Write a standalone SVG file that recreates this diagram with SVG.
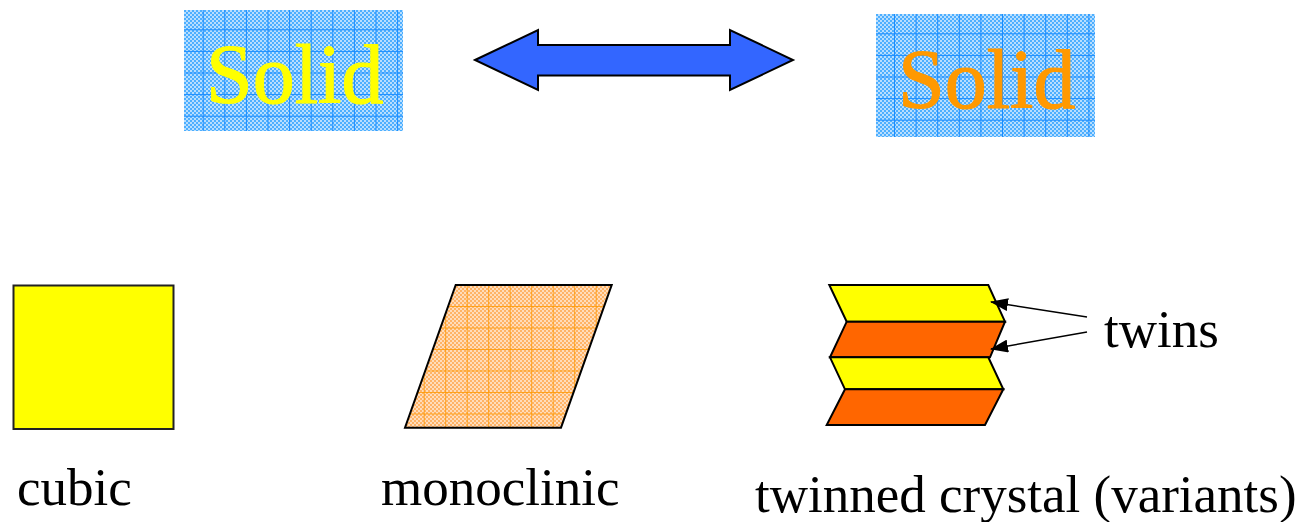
<svg xmlns="http://www.w3.org/2000/svg" width="1303" height="522" viewBox="0 0 1303 522">
  <style>
    .lbl { font-family: "Liberation Serif", "Times New Roman", serif; font-size: 53px; fill: #000; }
    .solid { font-family: "Liberation Serif", "Times New Roman", serif; font-size: 84px; stroke-width: 1.2; }
    .edge { stroke: #000; stroke-width: 2; stroke-linejoin: miter; }
    .conn { stroke: #000; stroke-width: 1.5; fill: none; }
  </style>
  <defs>
    <pattern id="blueDither" patternUnits="userSpaceOnUse" width="4" height="4">
      <rect width="4" height="4" fill="#4DAFFF"/>
      <rect width="2" height="2" fill="#B8DEFF"/>
      <rect x="2" y="2" width="2" height="2" fill="#B8DEFF"/>
    </pattern>
    <pattern id="blueGridL" patternUnits="userSpaceOnUse" width="21.6" height="21.6" patternTransform="translate(202.7 29.3)">
      <rect x="-0.8" y="0" width="1.8" height="21.6" fill="#1A8CFF"/>
      <rect x="0" y="-0.8" width="21.6" height="1.8" fill="#1A8CFF"/>
    </pattern>
    <pattern id="blueGridR" patternUnits="userSpaceOnUse" width="21.6" height="21.6" patternTransform="translate(894 33.3)">
      <rect x="-0.8" y="0" width="1.8" height="21.6" fill="#1A8CFF"/>
      <rect x="0" y="-0.8" width="21.6" height="1.8" fill="#1A8CFF"/>
    </pattern>
    <pattern id="orangeDither" patternUnits="userSpaceOnUse" width="4" height="4">
      <rect width="4" height="4" fill="#FFB366"/>
      <rect width="2" height="2" fill="#FFDDBB"/>
      <rect x="2" y="2" width="2" height="2" fill="#FFDDBB"/>
    </pattern>
    <pattern id="orangeGrid" patternUnits="userSpaceOnUse" width="21.5" height="21.5" patternTransform="translate(466.7 306)">
      <rect x="-0.6" y="0" width="1.4" height="21.5" fill="#FF9900"/>
      <rect x="0" y="-0.6" width="21.5" height="1.4" fill="#FF9900"/>
    </pattern>
    <marker id="arrowHead" viewBox="0 0 18 13" refX="17" refY="6.5" markerWidth="18" markerHeight="13" markerUnits="userSpaceOnUse" orient="auto">
      <path d="M0,0 L18,6.5 L0,13 Z" fill="#000"/>
    </marker>
  </defs>

  <g id="solid-left">
    <rect x="184" y="10" width="219" height="121" fill="url(#blueDither)"/>
    <rect x="184" y="10" width="219" height="121" fill="url(#blueGridL)"/>
    <text class="solid" x="206" y="103" fill="#FFFF00" stroke="#FFFF00">Solid</text>
  </g>

  <g id="solid-right">
    <rect x="876" y="14" width="219" height="123" fill="url(#blueDither)"/>
    <rect x="876" y="14" width="219" height="123" fill="url(#blueGridR)"/>
    <text class="solid" x="898" y="108" fill="#FF9900" stroke="#FF9900">Solid</text>
  </g>

  <g id="double-arrow">
    <path d="M475,60 L538,30 L538,45 L730,45 L730,30 L793,60 L730,90 L730,75.5 L538,75.5 L538,90 Z" fill="#3366FF" class="edge"/>
  </g>

  <g id="cubic">
    <rect x="13.5" y="285.5" width="160" height="143.5" fill="#FFFF00" stroke="#222" stroke-width="2"/>
    <text class="lbl" x="17" y="505">cubic</text>
  </g>

  <g id="monoclinic">
    <path d="M455.7,285 L611.7,285 L561,427.7 L405,427.7 Z" fill="url(#orangeDither)"/>
    <path d="M455.7,285 L611.7,285 L561,427.7 L405,427.7 Z" fill="url(#orangeGrid)" class="edge" stroke-width="2.4"/>
    <text class="lbl" x="381" y="505">monoclinic</text>
  </g>

  <g id="twinned-crystal">
    <path d="M829.3,285 L988.3,285 L1005,321.7 L846.7,321.7 Z" fill="#FFFF00" class="edge"/>
    <path d="M846.7,321.7 L1005,321.7 L990,357.3 L830,357.3 Z" fill="#FF6600" class="edge"/>
    <path d="M830,357.3 L988.3,357.3 L1003.3,389.3 L845,389.3 Z" fill="#FFFF00" class="edge"/>
    <path d="M845,389.3 L1003.3,389.3 L985,425 L826.7,425 Z" fill="#FF6600" class="edge"/>
    <text class="lbl" x="755" y="512">twinned crystal (variants)</text>
  </g>

  <g id="twins-label">
    <text class="lbl" x="1104" y="347">twins</text>
  </g>

  <g id="connectors">
    <line class="conn" x1="1087" y1="317" x2="991" y2="302" marker-end="url(#arrowHead)"/>
    <line class="conn" x1="1087" y1="332" x2="991" y2="349" marker-end="url(#arrowHead)"/>
  </g>
</svg>
